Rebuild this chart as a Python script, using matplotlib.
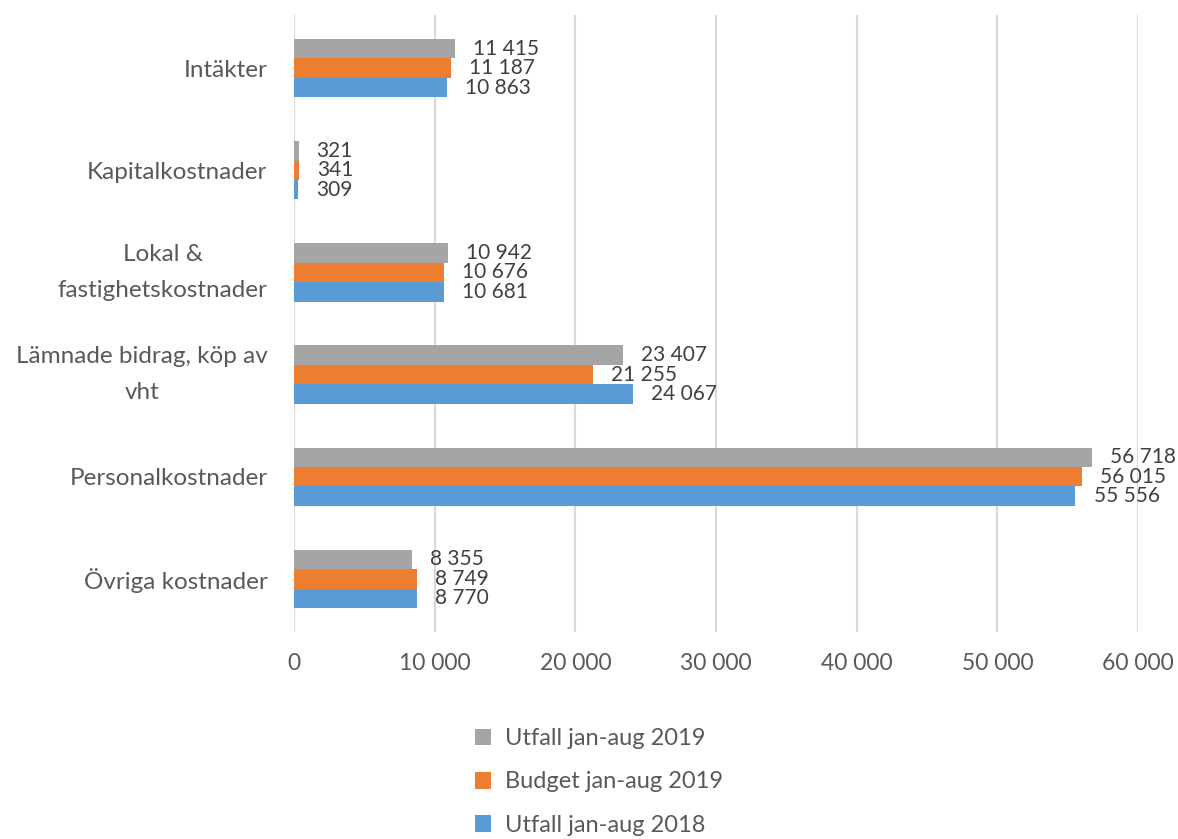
import matplotlib.pyplot as plt
import numpy as np

plt.rcParams["font.family"] = ["Lato", "DejaVu Sans"]

categories = [
    "Intäkter",
    "Kapitalkostnader",
    "Lokal &\nfastighetskostnader",
    "Lämnade bidrag, köp av\nvht",
    "Personalkostnader",
    "Övriga kostnader",
]
utfall_2019 = [11415, 321, 10942, 23407, 56718, 8355]
budget_2019 = [11187, 341, 10676, 21255, 56015, 8749]
utfall_2018 = [10863, 309, 10681, 24067, 55556, 8770]

series_names = ["Utfall jan-aug 2019", "Budget jan-aug 2019", "Utfall jan-aug 2018"]
colors = ["#A5A5A5", "#ED7D31", "#5B9BD5"]
TEXT = "#595959"


def fmt(v):
    return f"{v:,.0f}".replace(",", " ")


fig = plt.figure(figsize=(11.78, 8.39), dpi=100)
ax = fig.add_axes([294 / 1178, 1 - 632 / 839, (1138 - 294) / 1178, (632 - 15) / 839])

y = np.arange(len(categories))
h = 0.19
offsets = [-h, 0, h]
for vals, off, col, name in zip([utfall_2019, budget_2019, utfall_2018], offsets, colors, series_names):
    bars = ax.barh(y + off, vals, height=h, color=col, label=name, zorder=3)
    for b, v in zip(bars, vals):
        ax.annotate(fmt(v), (b.get_width(), b.get_y() + b.get_height() / 2),
                    xytext=(13, 0), textcoords="offset points", va="center", ha="left",
                    fontsize=15, color="#404040")

ax.set_ylim(len(categories) - 0.48, -0.52)
ax.set_xlim(0, 60000)
ax.set_xticks(np.arange(0, 60001, 10000))
ax.set_xticklabels([fmt(v) for v in np.arange(0, 60001, 10000)])
ax.set_yticks(y)
ax.set_yticklabels(categories, ha="right", linespacing=1.85)
for lab in ax.get_yticklabels():
    lab.set_multialignment("center")
    if "\n" in lab.get_text():
        lab.set_verticalalignment("center")
ax.tick_params(axis="y", length=0, pad=19, labelsize=17.5, labelcolor=TEXT)
ax.tick_params(axis="x", length=0, pad=15, labelsize=16.5, labelcolor=TEXT)
ax.grid(axis="x", color="#D9D9D9", linewidth=1.5, zorder=0)
for s in ax.spines.values():
    s.set_visible(False)

handles, labels = ax.get_legend_handles_labels()
fig.legend(handles, labels, loc="center", bbox_to_anchor=(599 / 1178, 1 - 782 / 839),
           frameon=False, fontsize=17, labelcolor=TEXT, handlelength=0.7, handleheight=0.7,
           labelspacing=0.95, handletextpad=0.6)

fig.savefig("out.png", dpi=100)
